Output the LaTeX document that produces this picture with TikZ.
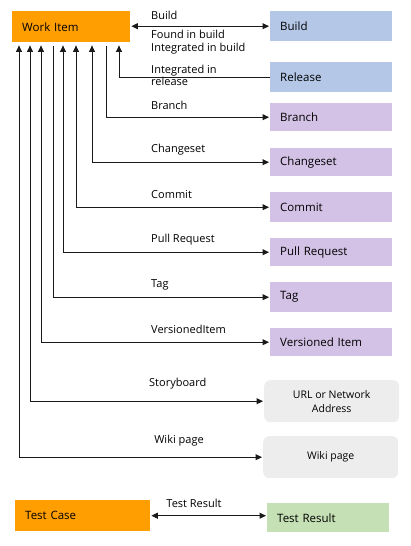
\documentclass[tikz,border=0pt]{standalone}
\usepackage{fontspec}
\setmainfont{Open Sans}
\usetikzlibrary{arrows.meta}
\definecolor{wiorange}{HTML}{FF9E00}
\definecolor{buildblue}{HTML}{B4C7E7}
\definecolor{vcpurple}{HTML}{D3C2E6}
\definecolor{linkgray}{HTML}{EDEDED}
\definecolor{trgreen}{HTML}{C5E0B4}
\definecolor{linecol}{HTML}{1A1A1A}
\tikzset{
  box/.style={rectangle, anchor=north west, inner xsep=10pt, inner ysep=0pt, align=left,
    font=\fontsize{11.5}{13}\selectfont, text=black},
  rbox/.style={rectangle, rounded corners=6pt, anchor=north west, fill=linkgray, inner sep=0pt,
    align=center, font=\fontsize{10.5}{14}\selectfont},
  lbl/.style={inner sep=0pt, align=left, font=\fontsize{11}{12.5}\selectfont},
  conn/.style={draw=linecol, line width=1pt},
  tip/.style={-{Triangle[length=6.5pt,width=6pt]}},
  tips/.style={{Triangle[length=6.5pt,width=6pt]}-{Triangle[length=6.5pt,width=6pt]}},
}
\begin{document}
\begin{tikzpicture}[x=1pt,y=-1pt]
\useasboundingbox (0,0) rectangle (411,546);
% boxes
\node[box, fill=wiorange, minimum height=31pt, text width=98pt] (wi) at (12,11) {Work Item};
\node[box, fill=buildblue, minimum height=30pt, text width=102pt] (build) at (270,11) {Build};
\node[box, fill=buildblue, minimum height=30pt, text width=102pt] (release) at (270,62) {Release};
\node[box, fill=vcpurple, minimum height=28pt, text width=102pt] (branch) at (270,103) {Branch};
\node[box, fill=vcpurple, minimum height=28pt, text width=102pt] (changeset) at (270,148) {Changeset};
\node[box, fill=vcpurple, minimum height=30pt, text width=102pt] (commit) at (270,192) {Commit};
\node[box, fill=vcpurple, minimum height=28pt, text width=102pt] (pr) at (270,238) {Pull Request};
\node[box, fill=vcpurple, minimum height=30pt, text width=102pt] (tag) at (270,282) {Tag};
\node[box, fill=vcpurple, minimum height=28pt, text width=102pt] (vi) at (270,328) {Versioned Item};
\node[rbox, minimum width=135pt, minimum height=42pt] (url) at (264,380) {URL or Network\\Address};
\node[rbox, minimum width=135pt, minimum height=42pt] (wiki) at (263,436) {Wiki page};
\node[box, fill=wiorange, minimum height=31pt, text width=115pt] (tc) at (15,500) {Test Case};
\node[box, fill=trgreen, minimum height=29pt, text width=102pt] (tr) at (267,503) {Test Result};
% labels
\node[lbl, anchor=west] (lbuild) at (151,15) {Build};
\node[lbl, anchor=west] (lfound) at (151,42) {Found in build\\Integrated in build};
\node[lbl, anchor=west] (lrel) at (151,75.5) {Integrated in\\release};
\node[lbl, anchor=west] (lbranch) at (151,105) {Branch};
\node[lbl, anchor=west] (lcs) at (151,150) {Changeset};
\node[lbl, anchor=west] (lcommit) at (151,195) {Commit};
\node[lbl, anchor=west] (lpr) at (151,240) {Pull Request};
\node[lbl, anchor=west] (ltag) at (151,285) {Tag};
\node[lbl, anchor=west] (lvi) at (151,329) {VersionedItem};
\node[lbl, anchor=west] (lsb) at (149,384) {Storyboard};
\node[lbl] (lwiki) at (179,441) {Wiki page};
\node[lbl] (ltr) at (194,503) {Test Result};
% connectors
\draw[conn, tips, shorten <=1pt, shorten >=1pt] (wi.east |- build.west) -- (build.west);
\draw[conn, tip, shorten >=3pt] (release.west) -| ([xshift=107pt]wi.south west);
\draw[conn, tip, shorten >=1pt] ([xshift=94pt, yshift=-4pt]wi.south west) |- (branch.west);
\draw[conn, tips, shorten <=3pt, shorten >=1pt] ([xshift=80pt]wi.south west) |- (changeset.west);
\draw[conn, tips, shorten <=3pt, shorten >=1pt] ([xshift=64pt]wi.south west) |- (commit.west);
\draw[conn, tips, shorten <=3pt, shorten >=1pt] ([xshift=51pt]wi.south west) |- (pr.west);
\draw[conn, tip, shorten >=1pt] ([xshift=41pt, yshift=-4pt]wi.south west) |- (tag.west);
\draw[conn, tips, shorten <=3pt, shorten >=1pt] ([xshift=29pt]wi.south west) |- (vi.west);
\draw[conn, tips, shorten <=3pt, shorten >=1pt] ([xshift=18pt]wi.south west) |- (url.west);
\draw[conn, tips, shorten <=3pt, shorten >=1pt] ([xshift=7pt]wi.south west) |- (wiki.west);
\draw[conn, tips, shorten <=1pt, shorten >=1pt] (tc.east) -- (tc.east -| tr.west);
\end{tikzpicture}
\end{document}
